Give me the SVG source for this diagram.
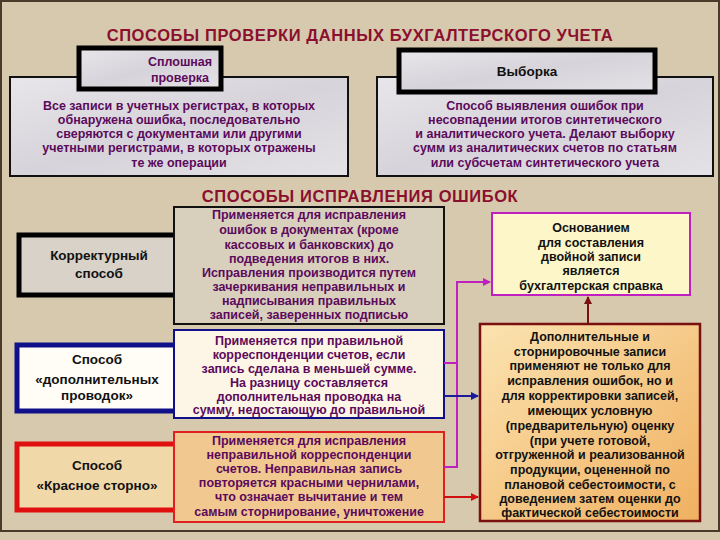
<svg xmlns="http://www.w3.org/2000/svg" width="720" height="540" viewBox="0 0 720 540">
<defs>
<style>
text{font-family:"Liberation Sans",Arial,sans-serif;font-weight:bold;text-anchor:middle}
.t{font-size:12.5px;fill:#5c0a5c}
.d{font-size:12.5px;fill:#111}
.k{font-size:13.5px;fill:#111}
.h{font-size:16.5px;fill:#8b0f2e;letter-spacing:0.6px}
</style>
<linearGradient id="og" x1="0" y1="0" x2="1" y2="1"><stop offset="0" stop-color="#fbe3b0"/><stop offset="1" stop-color="#f0b060"/></linearGradient>
<linearGradient id="mb" x1="0" y1="0" x2="1" y2="1"><stop offset="0" stop-color="#e8e6ea"/><stop offset="0.5" stop-color="#d6d4da"/><stop offset="1" stop-color="#e4e2e6"/></linearGradient>
<marker id="am" markerWidth="8" markerHeight="8" refX="7" refY="4" orient="auto" markerUnits="userSpaceOnUse"><path d="M0,0L8,4L0,8z" fill="#c020c0"/></marker>
<marker id="ab" markerWidth="8" markerHeight="8" refX="7" refY="4" orient="auto" markerUnits="userSpaceOnUse"><path d="M0,0L8,4L0,8z" fill="#1a1a9a"/></marker>
<marker id="ar" markerWidth="8" markerHeight="8" refX="7" refY="4" orient="auto" markerUnits="userSpaceOnUse"><path d="M0,0L8,4L0,8z" fill="#d01010"/></marker>
<marker id="ad" markerWidth="8" markerHeight="8" refX="7" refY="4" orient="auto" markerUnits="userSpaceOnUse"><path d="M0,0L8,4L0,8z" fill="#7a1010"/></marker>
</defs>
<rect width="720" height="540" fill="#d6c9ad"/>
<rect x="1" y="1" width="718" height="530" fill="none" stroke="#4a3a2a" stroke-width="2"/>
<text class="h" x="360" y="41">СПОСОБЫ  ПРОВЕРКИ  ДАННЫХ  БУХГАЛТЕРСКОГО УЧЕТА</text>

<g id="splosh-text">
<rect x="10" y="77" width="338" height="99" fill="url(#mb)" stroke="#111" stroke-width="2"/>
<text class="t" x="179" y="110">Все записи в учетных регистрах, в которых</text>
<text class="t" x="179" y="124">обнаружена ошибка, последовательно</text>
<text class="t" x="179" y="138">сверяются с документами или другими</text>
<text class="t" x="179" y="152">учетными регистрами, в которых отражены</text>
<text class="t" x="179" y="167">те же операции</text>
</g>
<g id="splosh">
<rect x="79" y="48" width="142" height="41" fill="url(#mb)" stroke="#000" stroke-width="5"/>
<text class="t" x="180" y="66">Сплошная</text>
<text class="t" x="180" y="82">проверка</text>
</g>
<g id="vyb-text">
<rect x="377" y="77" width="336" height="99" fill="url(#mb)" stroke="#111" stroke-width="2"/>
<text class="t" x="545" y="110">Способ выявления ошибок при</text>
<text class="t" x="545" y="124">несовпадении итогов синтетического</text>
<text class="t" x="545" y="138">и аналитического учета. Делают выборку</text>
<text class="t" x="545" y="152">сумм из аналитических счетов по статьям</text>
<text class="t" x="545" y="167">или субсчетам синтетического учета</text>
</g>
<g id="vyb">
<rect x="399" y="50" width="256" height="42" fill="url(#mb)" stroke="#000" stroke-width="5"/>
<text class="k" x="527" y="76">Выборка</text>
</g>

<text class="h" x="360" y="202">СПОСОБЫ  ИСПРАВЛЕНИЯ  ОШИБОК</text>

<g id="korr">
<rect x="19" y="235" width="160" height="60" fill="#d8d2c8" stroke="#000" stroke-width="5"/>
<text class="k" x="99" y="260">Корректурный</text>
<text class="k" x="99" y="278">способ</text>
</g>
<g id="korr-text">
<rect x="174" y="207" width="270" height="117" fill="#d8d0bc" stroke="#111" stroke-width="2"/>
<text class="t" x="309" y="219">Применяется для исправления</text>
<text class="t" x="309" y="234">ошибок в документах (кроме</text>
<text class="t" x="309" y="249">кассовых и банковских) до</text>
<text class="t" x="309" y="263">подведения итогов в них.</text>
<text class="t" x="309" y="277">Исправления производится путем</text>
<text class="t" x="309" y="291">зачеркивания неправильных и</text>
<text class="t" x="309" y="305">надписывания правильных</text>
<text class="t" x="309" y="319">записей,  заверенных подписью</text>
</g>
<g id="dop">
<rect x="17" y="345" width="160" height="66" fill="#fffdf6" stroke="#10108a" stroke-width="5"/>
<text class="k" x="97" y="364">Способ</text>
<text class="k" x="97" y="384">«дополнительных</text>
<text class="k" x="97" y="400">проводок»</text>
</g>
<g id="dop-text">
<rect x="174" y="330" width="270" height="88" fill="#fdf6e6" stroke="#10108a" stroke-width="2"/>
<text class="t" x="309" y="345">Применяется при правильной</text>
<text class="t" x="309" y="359">корреспонденции счетов, если</text>
<text class="t" x="309" y="373">запись сделана в меньшей сумме.</text>
<text class="t" x="309" y="387">На разницу составляется</text>
<text class="t" x="309" y="401">дополнительная проводка на</text>
<text class="t" x="309" y="414">сумму, недостающую до правильной</text>
</g>
<g id="storno">
<rect x="17" y="444" width="160" height="66" fill="#f0d8a8" stroke="#e01010" stroke-width="5"/>
<text class="k" x="97" y="470">Способ</text>
<text class="k" x="97" y="490">«Красное сторно»</text>
</g>
<g id="storno-text">
<rect x="174" y="432" width="270" height="90" fill="#f0c890" stroke="#e02020" stroke-width="2"/>
<text class="t" x="309" y="445">Применяется для исправления</text>
<text class="t" x="309" y="459">неправильной корреспонденции</text>
<text class="t" x="309" y="473">счетов. Неправильная запись</text>
<text class="t" x="309" y="487">повторяется красными чернилами,</text>
<text class="t" x="309" y="501">что означает вычитание и тем</text>
<text class="t" x="309" y="516">самым сторнирование, уничтожение</text>
</g>
<g id="osn">
<rect x="492" y="213" width="198" height="82" fill="#fcf6c8" stroke="#c020c0" stroke-width="2"/>
<text class="d" x="591" y="232">Основанием</text>
<text class="d" x="591" y="247">для составления</text>
<text class="d" x="591" y="261">двойной записи</text>
<text class="d" x="591" y="275">является</text>
<text class="d" x="591" y="290">бухгалтерская справка</text>
</g>
<g id="dopzap">
<rect x="480" y="324" width="220" height="197" fill="url(#og)" stroke="#7a1010" stroke-width="2.5"/>
<text class="d" x="590" y="341">Дополнительные и</text>
<text class="d" x="590" y="356">сторнировочные записи</text>
<text class="d" x="590" y="370">применяют не только для</text>
<text class="d" x="590" y="385">исправления ошибок, но и</text>
<text class="d" x="590" y="400">для корректировки записей,</text>
<text class="d" x="590" y="415">имеющих условную</text>
<text class="d" x="590" y="430">(предварительную) оценку</text>
<text class="d" x="590" y="445">(при учете готовой,</text>
<text class="d" x="590" y="459">отгруженной и реализованной</text>
<text class="d" x="590" y="474">продукции, оцененной по</text>
<text class="d" x="590" y="489">плановой себестоимости, с</text>
<text class="d" x="590" y="503">доведением затем оценки до</text>
<text class="d" x="590" y="517">фактической себестоимости</text>
</g>
<g id="connectors" fill="none" stroke-width="2">
<path d="M444,363H457V467H444M457,363V282H490" stroke="#c020c0" marker-end="url(#am)"/>
<path d="M444,396H478" stroke="#1a1a9a" marker-end="url(#ab)"/>
<path d="M444,497H478" stroke="#d01010" marker-end="url(#ar)"/>
<path d="M588,323V297" stroke="#7a1010" marker-end="url(#ad)"/>
</g>
</svg>
